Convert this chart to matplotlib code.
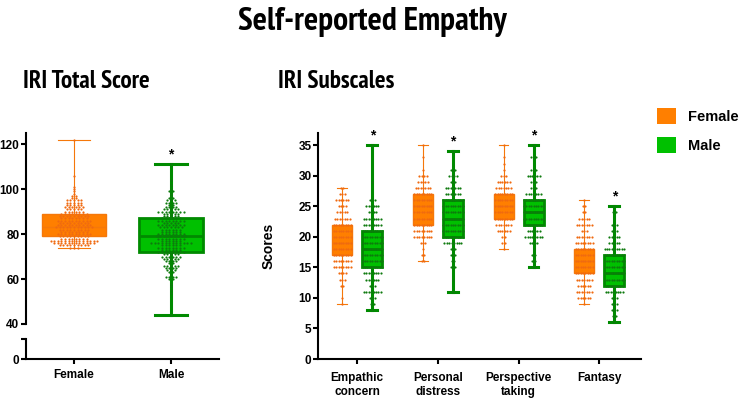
import matplotlib
matplotlib.use("Agg")
import matplotlib.pyplot as plt
import numpy as np
from matplotlib.patches import Patch
from matplotlib import font_manager as fm

plt.rcParams['font.family'] = ['Liberation Sans', 'DejaVu Sans']
plt.rcParams['font.weight'] = 'bold'

# ---------------- data ----------------
groups = ["Female", "Male"]
subscales = ["Empathic\nconcern", "Personal\ndistress", "Perspective\ntaking", "Fantasy"]

# IRI total score box stats: min, q1, median, q3, max
total_female_box = [74, 79, 83, 89, 122]
total_male_box = [44, 72, 79, 87, 111]

# IRI total score dot values and counts
total_female_vals = [74, 75, 76, 77, 78, 79, 80, 81, 82, 83, 84, 85, 86, 87, 88, 89, 90, 91, 92, 93, 94, 95, 96, 97, 98, 99, 100, 101, 106, 122]
total_female_cnts = [3, 9, 12, 14, 8, 9, 10, 8, 9, 11, 10, 9, 10, 8, 9, 8, 6, 5, 6, 5, 5, 5, 2, 2, 1, 1, 1, 1, 1, 1]
total_male_vals = [44, 54, 55, 57, 58, 60, 61, 62, 63, 64, 65, 66, 67, 68, 69, 70, 71, 72, 73, 74, 75, 76, 77, 78, 79, 80,
                   81, 82, 83, 84, 85, 86, 87, 88, 89, 90, 91, 92, 93, 94, 95, 96, 97, 98, 99, 100, 102, 104, 111]
total_male_cnts = [1, 1, 1, 1, 1, 2, 4, 1, 2, 3, 4, 5, 2, 4, 5, 6, 5, 8, 6, 8, 6, 12, 6, 8, 9, 8,
                   6, 6, 7, 8, 5, 8, 6, 5, 5, 8, 5, 4, 2, 4, 3, 2, 1, 1, 2, 1, 1, 1, 1]

# Subscale box stats (min, q1, median, q3, max) per subscale
sub_female_box = [[9, 17, 19, 22, 28], [16, 22, 25, 27, 35], [18, 23, 25, 27, 35], [9, 14, 16, 18, 26]]
sub_male_box = [[8, 15, 18, 21, 35], [11, 20, 23, 26, 34], [15, 22, 24, 26, 35], [6, 12, 14, 17, 25]]

# Subscale dot rows: start value and counts per consecutive integer
ec_f_start, ec_f_cnts = 9, [1, 1, 0, 2, 3, 4, 8, 8, 8, 8, 8, 8, 8, 8, 7, 5, 4, 6, 3, 2]
ec_m_start, ec_m_cnts = 8, [1, 2, 3, 8, 3, 6, 8, 9, 9, 9, 9, 9, 9, 9, 8, 8, 4, 6, 3, 0, 0, 1, 0, 0, 0, 0, 0, 1]
pd_f_start, pd_f_cnts = 16, [2, 2, 1, 3, 8, 8, 8, 8, 8, 8, 8, 8, 7, 5, 4, 1, 0, 1, 0, 1]
pd_m_start, pd_m_cnts = 11, [1, 0, 1, 0, 3, 2, 3, 3, 8, 9, 9, 9, 9, 9, 9, 9, 7, 7, 3, 4, 3, 0, 0, 1]
pt_f_start, pt_f_cnts = 18, [1, 2, 2, 6, 7, 8, 8, 8, 8, 8, 7, 6, 3, 1, 1, 1, 0, 1]
pt_m_start, pt_m_cnts = 15, [2, 2, 2, 1, 4, 8, 6, 8, 9, 9, 9, 9, 7, 3, 3, 6, 3, 0, 3, 0, 1]
fa_f_start, fa_f_cnts = 9, [1, 6, 7, 6, 7, 8, 8, 8, 8, 8, 8, 7, 3, 7, 5, 2, 2, 1]
fa_m_start, fa_m_cnts = 6, [1, 2, 3, 3, 3, 8, 8, 9, 9, 9, 9, 9, 9, 5, 5, 3, 3, 0, 2, 1]

sub_f_dots = [(ec_f_start, ec_f_cnts), (pd_f_start, pd_f_cnts), (pt_f_start, pt_f_cnts), (fa_f_start, fa_f_cnts)]
sub_m_dots = [(ec_m_start, ec_m_cnts), (pd_m_start, pd_m_cnts), (pt_m_start, pt_m_cnts), (fa_m_start, fa_m_cnts)]

# ---------------- style ----------------
F_FILL = '#FF7F00'
F_EDGE = '#F5780A'
F_DOT = '#F06A10'
M_FILL = '#00C000'
M_EDGE = '#008A00'
M_DOT = '#0E7A0E'

# narrow heavy font for titles if available
title_fname = None
title_scale = 1.0
try:
    files = [f.fname for f in fm.fontManager.ttflist]
    narrow = [p for p in files if 'Narrow' in p and 'Bold' in p and 'Italic' not in p]
    cond = [p for p in files if 'Condensed' in p and 'Bold' in p and 'Oblique' not in p and 'Italic' not in p]
    if narrow:
        title_fname = narrow[0]
        title_scale = 1.0
    elif cond:
        title_fname = cond[0]
        title_scale = 0.72
except Exception:
    pass


def title_text(x, y, s, size):
    if title_fname:
        fp = fm.FontProperties(fname=title_fname, size=size * title_scale)
        fig.text(x, y, s, ha='center', va='center', fontproperties=fp)
    else:
        fig.text(x, y, s, ha='center', va='center', fontsize=size * 0.8, fontweight='bold')


def stats(b):
    return dict(whislo=b[0], q1=b[1], med=b[2], q3=b[3], whishi=b[4], fliers=[])


def draw_box(ax, pos, b, female, width, capw):
    if female:
        props = dict(boxprops=dict(facecolor=F_FILL, edgecolor=F_EDGE, linewidth=1.0),
                     medianprops=dict(color=F_EDGE, linewidth=1.0),
                     whiskerprops=dict(color=F_EDGE, linewidth=0.8),
                     capprops=dict(color=F_EDGE, linewidth=0.8))
    else:
        props = dict(boxprops=dict(facecolor=M_FILL, edgecolor=M_EDGE, linewidth=2.0),
                     medianprops=dict(color=M_EDGE, linewidth=2.0),
                     whiskerprops=dict(color=M_EDGE, linewidth=2.2),
                     capprops=dict(color=M_EDGE, linewidth=2.2))
    ax.bxp([stats(b)], positions=[pos], widths=width, patch_artist=True,
           showfliers=False, capwidths=capw, zorder=2, **props)


def draw_dots(ax, pos, vals, cnts, color, spacing):
    xs, ys = [], []
    for v, n in zip(vals, cnts):
        for i in range(n):
            xs.append(pos + (i - (n - 1) / 2) * spacing)
            ys.append(v)
    ax.scatter(xs, ys, s=2.5, color=color, linewidths=0, zorder=3)


def style_axis(ax):
    for s in ['top', 'right']:
        ax.spines[s].set_visible(False)
    for s in ['left', 'bottom']:
        ax.spines[s].set_linewidth(1.5)
    ax.tick_params(width=1.5, length=3.5, labelsize=8.5, pad=1.2)
    for lab in ax.get_yticklabels():
        lab.set_fontweight('bold')


fig = plt.figure(figsize=(7.45, 4.0), dpi=100)
W, H = 745.0, 400.0

def rect(x0, y0, x1, y1):
    return [x0 / W, 1 - y1 / H, (x1 - x0) / W, (y1 - y0) / H]

# ---------- left: total score (broken axis) ----------
ax_t = fig.add_axes(rect(26, 133, 219, 324))
ax_b = fig.add_axes(rect(26, 339, 219, 359))

draw_box(ax_t, 0, total_female_box, True, 0.66, 0.33)
draw_box(ax_t, 1, total_male_box, False, 0.66, 0.33)
draw_dots(ax_t, 0, total_female_vals, total_female_cnts, F_DOT, 0.037)
draw_dots(ax_t, 1, total_male_vals, total_male_cnts, M_DOT, 0.037)
ax_t.text(1, total_male_box[4] + 1.5, '*', ha='center', va='bottom', fontsize=10)

ax_t.set_xlim(-0.495, 1.495)
ax_t.set_ylim(40, 125)
ax_t.set_yticks([40, 60, 80, 100, 120])
ax_t.set_xticks([])
ax_t.spines['bottom'].set_visible(False)
style_axis(ax_t)
ax_t.spines['left'].set_bounds(40, 125)

ax_b.set_xlim(-0.495, 1.495)
ax_b.set_ylim(0, 9)
ax_b.set_yticks([0, 9])
ax_b.set_yticklabels(['0', ''])
ax_b.set_xticks([0, 1])
ax_b.set_xticklabels(groups, fontsize=10, fontweight='bold')
style_axis(ax_b)
ax_b.tick_params(axis='x', pad=4)
ax_b.patch.set_visible(False)

title_text(86 / W, 1 - 81 / H, 'IRI Total Score', 18)

# ---------- right: subscales ----------
ax_s = fig.add_axes(rect(318, 133, 641, 359))
off = 0.186
for i in range(len(subscales)):
    draw_box(ax_s, i - off, sub_female_box[i], True, 0.245, 0.12)
    draw_box(ax_s, i + off, sub_male_box[i], False, 0.245, 0.12)
    fs, fc = sub_f_dots[i]
    ms, mc = sub_m_dots[i]
    draw_dots(ax_s, i - off, list(range(fs, fs + len(fc))), fc, F_DOT, 0.03)
    draw_dots(ax_s, i + off, list(range(ms, ms + len(mc))), mc, M_DOT, 0.03)
    ax_s.text(i + off, sub_male_box[i][4] + 0.5, '*', ha='center', va='bottom', fontsize=10)

ax_s.set_xlim(-0.487, 3.517)
ax_s.set_ylim(0, 37)
ax_s.set_yticks([0, 5, 10, 15, 20, 25, 30, 35])
ax_s.set_xticks(range(len(subscales)))
ax_s.set_xticklabels(subscales, fontsize=10.5, fontweight='bold', linespacing=1.15)
ax_s.set_ylabel('Scores', fontsize=10, fontweight='bold', labelpad=16)
style_axis(ax_s)
ax_s.tick_params(axis='x', pad=6)

title_text(336 / W, 1 - 81 / H, 'IRI Subscales', 18)

# legend
handles = [Patch(facecolor=F_FILL, edgecolor='none', label='Female'),
           Patch(facecolor=M_FILL, edgecolor='none', label='Male')]
fig.legend(handles=handles, loc='upper left', bbox_to_anchor=(657 / W, 1 - 108 / H), frameon=False,
           prop=dict(weight='bold', size=10.5), handlelength=1.3, handleheight=1.3, labelspacing=0.9,
           handletextpad=0.8, borderpad=0, borderaxespad=0)

title_text(0.5, 1 - 22 / H, 'Self-reported Empathy', 24)

fig.savefig('out.png', dpi=100)
